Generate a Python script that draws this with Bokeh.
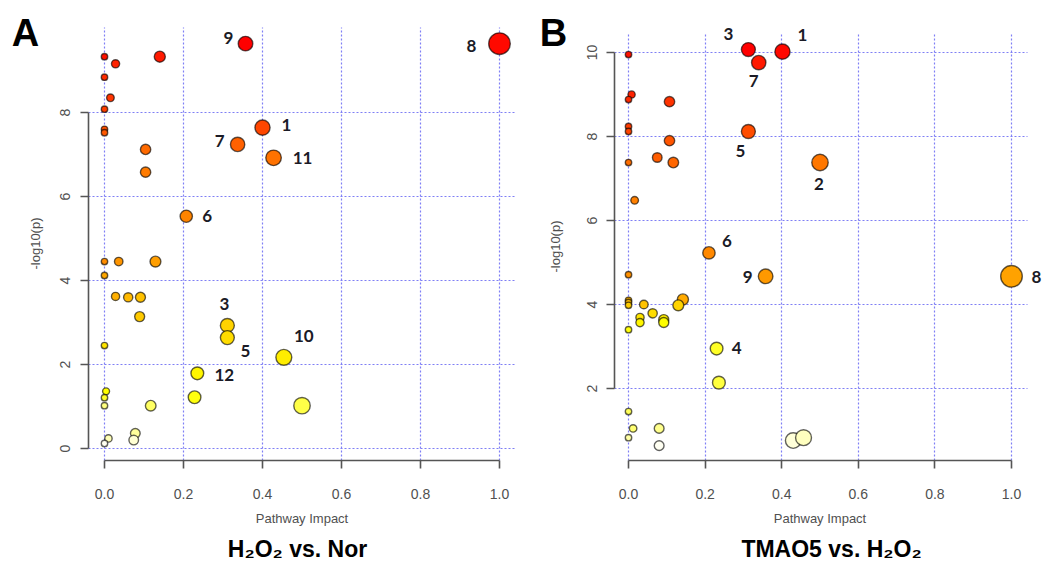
import math
import colorsys
from bokeh.plotting import figure
from bokeh.models import ColumnDataSource, LabelSet, Label, FixedTicker, Range1d, PrintfTickFormatter
from bokeh.layouts import row
from bokeh.core.properties import value
from bokeh.embed import file_html
from bokeh.resources import INLINE

# ---------------- data: panel A (H2O2 vs. Nor) ----------------
impact_a = [0.357, 1.0, 0.0, 0.028, 0.14, 0.0, 0.015, 0.0, 0.0, 0.0,
            0.40, 0.337, 0.428, 0.104, 0.104, 0.207, 0.0, 0.036, 0.129, 0.0,
            0.028, 0.06, 0.091, 0.089, 0.311, 0.311, 0.0, 0.454, 0.235, 0.228,
            0.5, 0.117, 0.004, 0.0, 0.0, 0.078, 0.074, 0.01, 0.0]
logp_a = [9.64, 9.64, 9.33, 9.16, 9.33, 8.84, 8.35, 8.08, 7.60, 7.52,
          7.64, 7.24, 6.92, 7.12, 6.58, 5.53, 4.45, 4.45, 4.45, 4.12,
          3.62, 3.60, 3.60, 3.14, 2.93, 2.64, 2.45, 2.17, 1.79, 1.22,
          1.02, 1.02, 1.36, 1.21, 1.02, 0.36, 0.20, 0.24, 0.12]
labels_a = ["9", "8", "1", "7", "11", "6", "3", "5", "10", "12"]
label_idx_a = [0, 1, 10, 11, 12, 15, 24, 25, 27, 28]

# ---------------- data: panel B (TMAO5 vs. H2O2) ----------------
impact_b = [0.313, 0.402, 0.34, 0.0, 0.008, 0.0, 0.107, 0.0, 0.0, 0.313,
            0.107, 0.075, 0.117, 0.0, 0.5, 0.016, 0.21, 0.0, 0.358, 1.0,
            0.0, 0.0, 0.0, 0.04, 0.063, 0.03, 0.03, 0.092, 0.092, 0.142,
            0.13, 0.0, 0.23, 0.236, 0.0, 0.012, 0.08, 0.0, 0.08, 0.43, 0.457]
logp_b = [10.07, 10.02, 9.76, 9.95, 9.00, 8.88, 8.83, 8.24, 8.12, 8.12,
          7.90, 7.50, 7.38, 7.38, 7.38, 6.48, 5.23, 4.71, 4.67, 4.67,
          4.10, 4.05, 3.98, 4.00, 3.79, 3.69, 3.57, 3.64, 3.57, 4.12,
          3.98, 3.40, 2.95, 2.14, 1.45, 1.05, 1.05, 0.83, 0.64, 0.76, 0.83]
labels_b = ["3", "1", "7", "5", "2", "6", "9", "8", "4"]
label_idx_b = [0, 1, 2, 9, 14, 16, 18, 19, 32]

x_ticks = [0.0, 0.2, 0.4, 0.6, 0.8, 1.0]
y_ticks_a = [0, 2, 4, 6, 8]
y_ticks_b = [2, 4, 6, 8, 10]
x_title = "Pathway Impact"
y_title = "-log10(p)"
title_a = "H\u2082O\u2082 vs. Nor"
title_b = "TMAO5 vs. H\u2082O\u2082"

# ---------------- styles ----------------
# label offsets in screen px (dx right, dy down)
label_off_a = [(-17, -6), (-28, 2), (24, -3), (-18, -3), (29, 0), (21, 0),
               (-3, -21), (18, 13), (20, -21), (27, 2)]
label_off_b = [(-20, -16), (20, -17), (-5, 18), (-8, 20), (-1, 21), (18, -12),
               (-18, 1), (25, 1), (20, -1)]

GRID = "#7f7ff5"
AXIS = "#555555"
TICKTXT = "#505050"
H = 564


def heat_colors(n):
    j = n // 4
    i = n - j
    out = []
    for k in range(i):
        h = (1 / 6) * (k / (i - 1) if i > 1 else 0)
        out.append(colorsys.hsv_to_rgb(h, 1, 1))
    if j > 0:
        s0, s1 = 1 - 1 / (2 * j), 1 / (2 * j)
        for k in range(j):
            s = s0 + (s1 - s0) * (k / (j - 1) if j > 1 else 0)
            out.append(colorsys.hsv_to_rgb(1 / 6, s, 1))
    return ["#%02x%02x%02x" % tuple(int(round(c * 255)) for c in rgb) for rgb in out]


def panel(impact, logp, labels, label_idx, label_off, yticks, ybounds,
          fig_x0, fig_w, fl, fr, ft, fb, xr, yr, title, letter, letter_px,
          title_px, ylab_px, ylab_standoff):
    fig_y0 = 0

    # page-pixel -> data mapping of the plotting region
    def px2x(px):
        return xr[0] + (px - fl) / (fr - fl) * (xr[1] - xr[0])

    def py2y(py):
        return yr[1] - (py - ft) / (fb - ft) * (yr[1] - yr[0])

    X0, X1 = px2x(fig_x0), px2x(fig_x0 + fig_w)
    Y0, Y1 = py2y(fig_y0 + H), py2y(fig_y0)

    p = figure(width=fig_w, height=H, x_range=Range1d(X0, X1), y_range=Range1d(Y0, Y1),
               output_backend="svg", toolbar_location=None,
               min_border_left=0, min_border_right=0, min_border_top=0, min_border_bottom=0)
    p.outline_line_color = None
    p.background_fill_color = "white"
    p.border_fill_color = "white"

    # axes (placed at the edges of the plotting region)
    for ax in (p.xaxis, p.yaxis):
        ax.axis_line_color = AXIS
        ax.axis_line_width = 1.6
        ax.major_tick_line_color = AXIS
        ax.major_tick_line_width = 1.6
        ax.major_tick_out = 8
        ax.major_tick_in = 0
        ax.minor_tick_line_color = None
        ax.major_label_text_font = "Liberation Sans"
        ax.major_label_text_font_size = "14px"
        ax.major_label_text_color = TICKTXT
        ax.axis_label_text_font = "Liberation Sans"
        ax.axis_label_text_font_size = "13px"
        ax.axis_label_text_font_style = "normal"
        ax.axis_label_text_color = "#505050"
    p.xaxis.ticker = FixedTicker(ticks=x_ticks)
    p.xaxis.formatter = PrintfTickFormatter(format="%.1f")
    p.xaxis.bounds = (0, 1)
    p.xaxis.fixed_location = yr[0]
    p.xaxis.major_label_standoff = 20
    p.xaxis.axis_label = x_title
    p.xaxis.axis_label_standoff = 9
    p.yaxis.ticker = FixedTicker(ticks=yticks)
    p.yaxis.bounds = ybounds
    p.yaxis.fixed_location = xr[0]
    p.yaxis.major_label_orientation = "vertical"
    p.yaxis.major_label_standoff = ylab_standoff

    for g in (p.xgrid, p.ygrid):
        g.grid_line_color = GRID
        g.grid_line_dash = "2 2"
        g.grid_line_width = 1.2
    p.xgrid.cross_bounds = (yr[0], yr[1])
    p.ygrid.cross_bounds = (xr[0], xr[1])

    # colours by rank of -log10(p)
    n = len(logp)
    order = sorted(range(n), key=lambda k: -logp[k])
    cols = heat_colors(n)
    fill = [None] * n
    for rank, k in enumerate(order):
        fill[k] = cols[rank]
    diam = [2 * (3.2 + 7.6 * v ** 0.6) for v in impact]
    src = ColumnDataSource(dict(x=impact, y=logp, c=fill, s=diam))
    p.scatter("x", "y", source=src, size="s", fill_color="c",
              line_color="black", line_alpha=0.62, line_width=1.4)

    lsrc = ColumnDataSource(dict(
        x=[impact[k] for k in label_idx], y=[logp[k] for k in label_idx],
        t=labels, dx=[o[0] for o in label_off], dy=[-o[1] for o in label_off]))
    p.add_layout(LabelSet(x="x", y="y", text="t", x_offset="dx", y_offset="dy",
                          source=lsrc, text_align="center", text_baseline="middle",
                          text_font=value("Lato"), text_font_style="bold",
                          text_font_size="17px", text_color="#1b1b26"))

    p.add_layout(Label(x=px2x(ylab_px[0]), y=py2y(ylab_px[1]), text=y_title,
                       angle=math.pi / 2, text_align="center", text_baseline="middle",
                       text_font="Liberation Sans", text_font_size="13px",
                       text_color="#505050"))
    p.add_layout(Label(x=px2x(letter_px[0]), y=py2y(letter_px[1]), text=letter,
                       text_align="center", text_baseline="middle",
                       text_font="Liberation Sans", text_font_style="bold",
                       text_font_size="38px", text_color="black"))
    p.add_layout(Label(x=px2x(title_px[0]), y=py2y(title_px[1]), text=title,
                       text_align="center", text_baseline="middle",
                       text_font="Liberation Sans", text_font_style="bold",
                       text_font_size="23px", text_color="black"))
    return p


pa = panel(impact_a, logp_a, labels_a, label_idx_a, label_off_a, y_ticks_a, (0, 8),
           0, 528, 88, 516, 27, 460, (-0.0405, 1.0430), (-0.286, 10.024),
           title_a, "A", (25, 32), (297, 548), (35, 243), 10)
pb = panel(impact_b, logp_b, labels_b, label_idx_b, label_off_b, y_ticks_b, (2, 10),
           528, 520, 614, 1027, 32, 460, (-0.0366, 1.0418), (0.286, 10.476),
           title_b, "B", (553, 32), (831, 548), (555, 246), 9)

layout = row(pa, pb)
open("out.html", "w").write(file_html(layout, INLINE))
